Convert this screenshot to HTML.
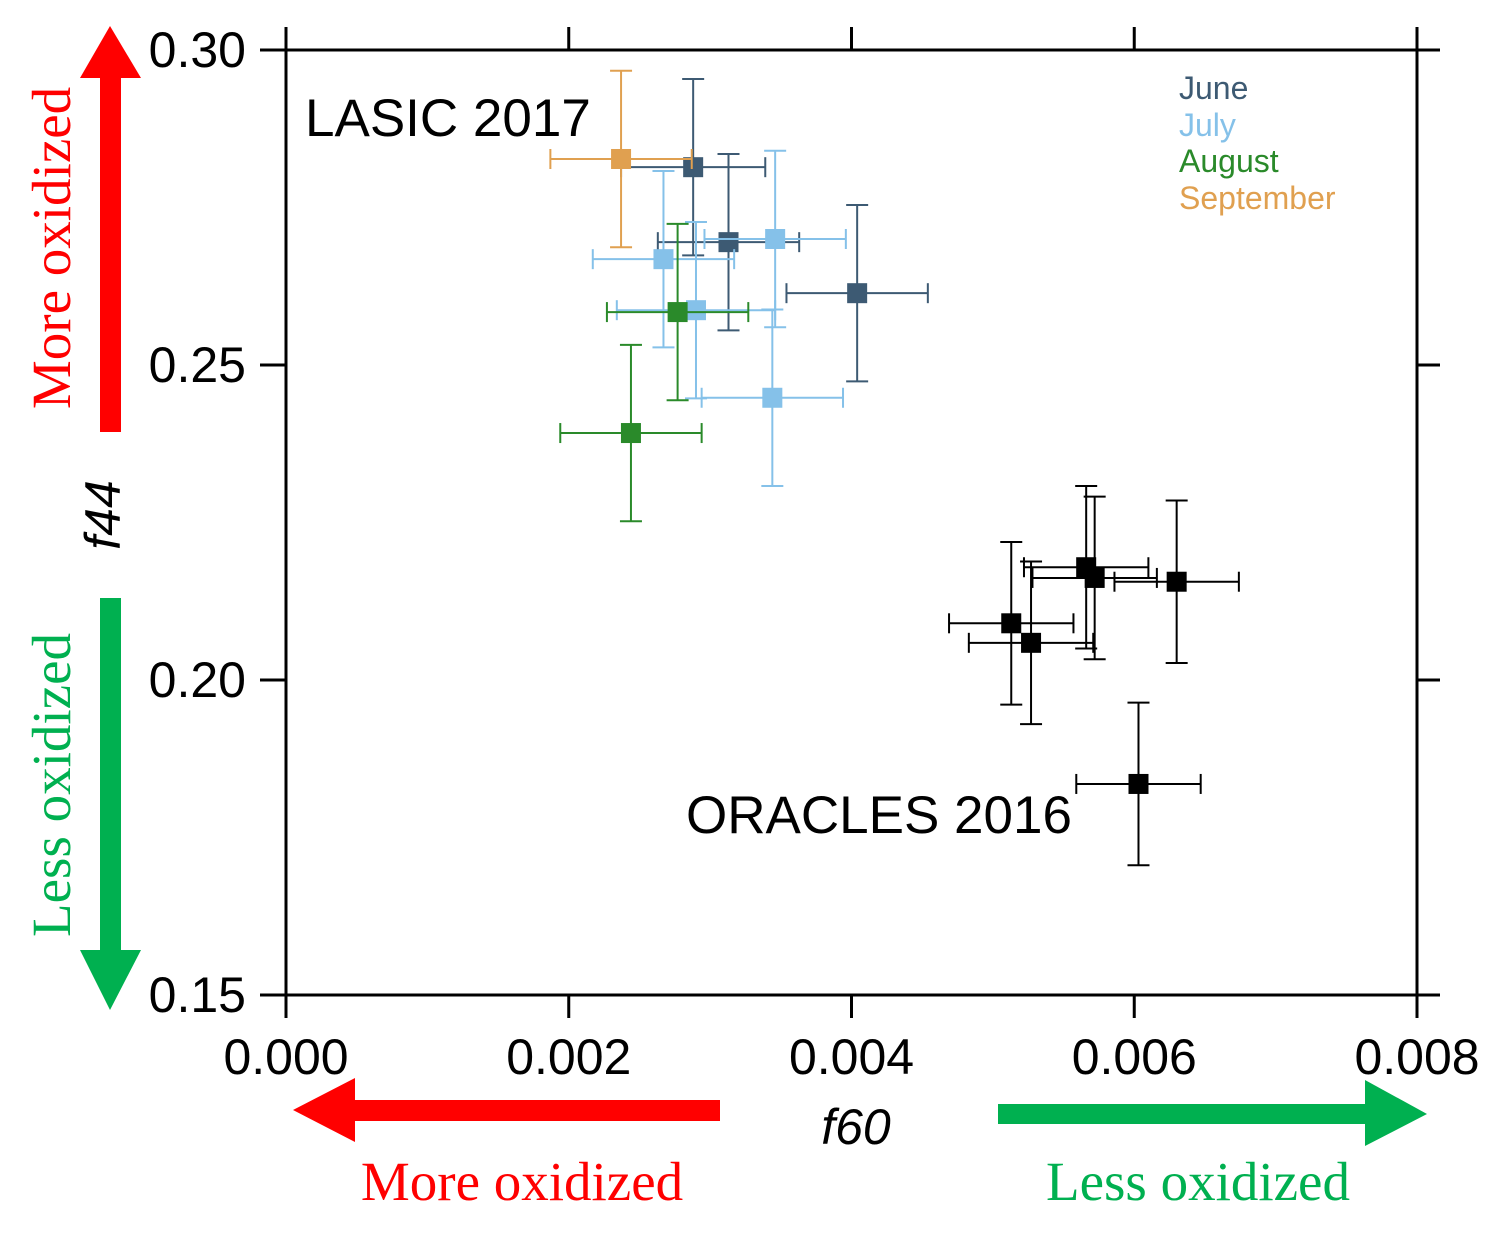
<!DOCTYPE html>
<html><head><meta charset="utf-8"><style>
body{margin:0;background:#fff}
svg text{font-family:"Liberation Sans",sans-serif}
</style></head><body>
<svg id="c" width="1502" height="1230" xmlns="http://www.w3.org/2000/svg">
<g id="frame" stroke="#000" stroke-width="3" fill="none">
<line x1="286" y1="50" x2="1440" y2="50"/>
<line x1="286" y1="995" x2="1440" y2="995"/>
<line x1="286" y1="50" x2="286" y2="1018"/>
<line x1="1417" y1="50" x2="1417" y2="1018"/>
</g>
<g id="ticks" stroke="#000" stroke-width="3"></g>
<g id="labels" font-size="50" fill="#000"></g>
<g id="marks"></g>
<text x="856" y="1144" font-size="50" font-style="italic" text-anchor="middle">f60</text>
<text transform="translate(120,515) rotate(-90)" font-size="50" font-style="italic" text-anchor="middle">f44</text>
<text x="305" y="136" font-size="53">LASIC 2017</text>
<text x="686" y="833" font-size="53">ORACLES 2016</text>
<g font-size="32">
<text x="1179" y="99" fill="#3d5a73">June</text>
<text x="1179" y="136" fill="#85c1e9">July</text>
<text x="1179" y="172" fill="#2a8a2a">August</text>
<text x="1179" y="209" fill="#e0a050">September</text>
</g>
<g fill="#ff0000"><rect x="100" y="76" width="21" height="356"/><polygon points="80,78 110,26 141,78"/></g>
<g fill="#00b050"><rect x="100" y="598" width="21" height="356"/><polygon points="80,950 110,1010 141,950"/></g>
<g fill="#ff0000"><rect x="352" y="1100" width="368" height="21"/><polygon points="355,1078 293,1110 355,1142"/></g>
<g fill="#00b050"><rect x="998" y="1104" width="370" height="20"/><polygon points="1365,1080 1427,1114 1365,1146"/></g>
<g font-size="55">
<text style="font-family:'Liberation Serif',serif" transform="translate(70,248) rotate(-90)" fill="#ff0000" text-anchor="middle">More oxidized</text>
<text style="font-family:'Liberation Serif',serif" transform="translate(70,785) rotate(-90)" fill="#00b050" text-anchor="middle">Less oxidized</text>
<text style="font-family:'Liberation Serif',serif" x="522" y="1200" fill="#ff0000" text-anchor="middle">More oxidized</text>
<text style="font-family:'Liberation Serif',serif" x="1198" y="1200" fill="#00b050" text-anchor="middle">Less oxidized</text>
</g>
</svg>
<script>
const xTicks=[0,0.002,0.004,0.006,0.008];
const xTickLabels=["0.000","0.002","0.004","0.006","0.008"];
const yTicks=[0.30,0.25,0.20,0.15];
const yTickLabels=["0.30","0.25","0.20","0.15"];
const groups=["June","June","June","July","July","July","July","August","August","September","ORACLES","ORACLES","ORACLES","ORACLES","ORACLES","ORACLES"];
const f60=[0.00288,0.00313,0.00404,0.00346,0.00267,0.00290,0.00344,0.00277,0.00244,0.00237,0.00566,0.00572,0.00630,0.00513,0.00527,0.00603];
const f44=[0.2814,0.2695,0.2614,0.2700,0.2668,0.2587,0.2448,0.2584,0.2392,0.2827,0.2179,0.2162,0.2156,0.2090,0.2059,0.1835];
const f60Err=[0.00051,0.00050,0.00050,0.00050,0.00050,0.00056,0.00050,0.00050,0.00050,0.00050,0.00044,0.00044,0.00044,0.00044,0.00044,0.00044];
const f44Err=[0.0140,0.0140,0.0140,0.0140,0.0140,0.0140,0.0140,0.0140,0.0140,0.0140,0.0129,0.0129,0.0129,0.0129,0.0129,0.0129];
const colors={June:"#3d5a73",July:"#85c1e9",August:"#2a8a2a",September:"#e0a050",ORACLES:"#000"};
const X=v=>286+v/0.008*1131, Y=v=>50+(0.30-v)/0.15*945;
const NS="http://www.w3.org/2000/svg";
function mk(tag,parent,attrs){const e=document.createElementNS(NS,tag);for(const k in attrs)e.setAttribute(k,attrs[k]);parent.appendChild(e);return e;}
const tk=document.getElementById('ticks'),lb=document.getElementById('labels'),mg=document.getElementById('marks');
xTicks.forEach((t,i)=>{const x=X(t);
 const a=mk('line',tk,{x1:x,y1:995,x2:x,y2:1018});
 
 
 const b=mk('line',tk,{x1:x,y1:50,x2:x,y2:27});
 
 
 const l=mk('text',lb,{x:x,y:1074,'text-anchor':'middle'});l.textContent=xTickLabels[i];
 
 
});
yTicks.forEach((t,i)=>{const y=Y(t);
 const a=mk('line',tk,{x1:260,y1:y,x2:286,y2:y});
 
 
 const b=mk('line',tk,{x1:1417,y1:y,x2:1440,y2:y});
 
 
 const l=mk('text',lb,{x:246,y:y+17,'text-anchor':'end'});l.textContent=yTickLabels[i];
 
 
});
f60.forEach((v,i)=>{const c=colors[groups[i]];const cx=X(v),cy=Y(f44[i]);
 const x1=X(v-f60Err[i]),x2=X(v+f60Err[i]),y1=Y(f44[i]+f44Err[i]),y2=Y(f44[i]-f44Err[i]);
 const g=mk('g',mg,{stroke:c,'stroke-width':2});
 
 
 mk('line',g,{x1:x1,y1:cy,x2:x2,y2:cy});
 mk('line',g,{x1:cx,y1:y1,x2:cx,y2:y2});
 mk('line',g,{x1:x1,y1:cy-10,x2:x1,y2:cy+10});
 mk('line',g,{x1:x2,y1:cy-10,x2:x2,y2:cy+10});
 mk('line',g,{x1:cx-11,y1:y1,x2:cx+11,y2:y1});
 mk('line',g,{x1:cx-11,y1:y2,x2:cx+11,y2:y2});
 mk('rect',g,{x:cx-10,y:cy-10,width:20,height:20,fill:c,stroke:'none'});
});
</script>
</body></html>
